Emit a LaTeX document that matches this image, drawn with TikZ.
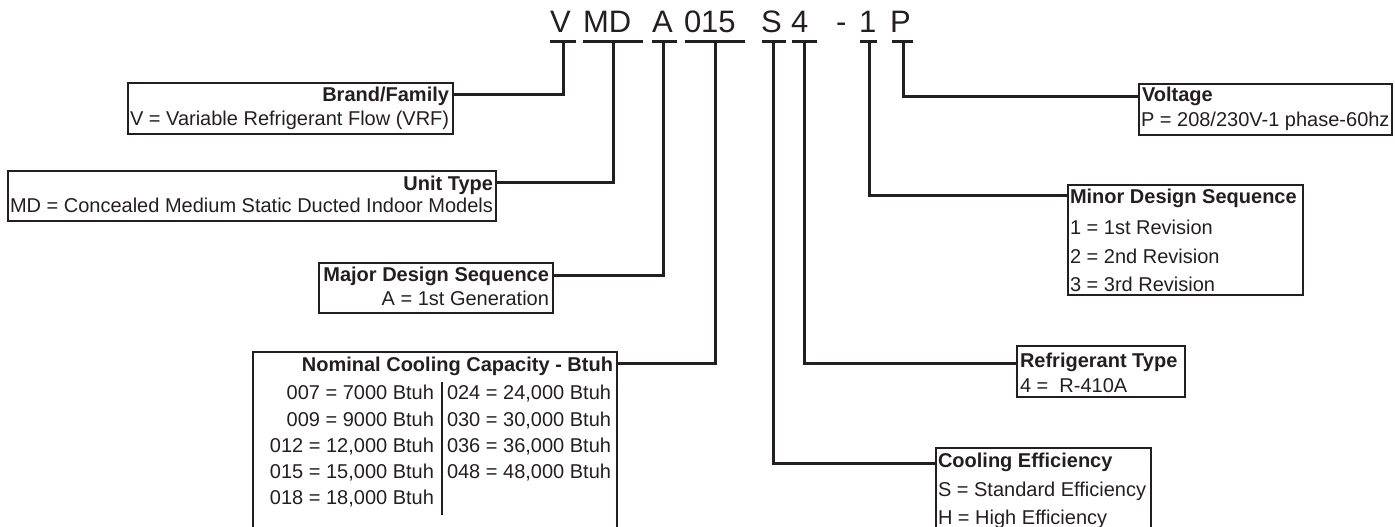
\documentclass[tikz,border=0pt]{standalone}
\usepackage{fontspec}
\setmainfont{Liberation Sans}
\definecolor{ink}{HTML}{231F20}
\begin{document}
\begin{tikzpicture}[x=1pt,y=-1pt,
  every node/.style={inner sep=0pt, outer sep=0pt, text=ink},
  codech/.style={anchor=base west, font=\fontsize{31}{36}\selectfont},
  ttl/.style={font=\fontsize{20}{24}\selectfont\bfseries},
  txt/.style={font=\fontsize{20}{24}\selectfont},
  box/.style={draw=ink, line width=1.3pt, rectangle, anchor=north west},
  conn/.style={draw=ink, line width=3pt},
  uline/.style={draw=ink, line width=3pt},
  divider/.style={draw=ink, line width=1.3pt},
]
\useasboundingbox (0,0) rectangle (1395,527);
\clip (0,0) rectangle (1395,527);

% ---- model code ----
\node[codech] (cV)   at (550,33) {V};
\node[codech] (cMD)  at (583,33) {MD};
\node[codech] (cA)   at (652,33) {A};
\node[codech] (c015) at (684,33) {015};
\node[codech] (cS)   at (761,33) {S};
\node[codech] (c4)   at (791,33) {4};
\node[codech] (cdash) at (836,33) {-};
\node[codech] (c1)   at (859,33) {1};
\node[codech] (cP)   at (890,33) {P};

\draw[uline] (550,42) -- (576,42);
\draw[uline] (583,42) -- (643,42);
\draw[uline] (652,42) -- (677,42);
\draw[uline] (685,42) -- (745,42);
\draw[uline] (762,42) -- (786,42);
\draw[uline] (792,42) -- (817,42);
\draw[uline] (860,42) -- (877,42);
\draw[uline] (892,42) -- (913,42);

\coordinate (tV)   at (563,42);
\coordinate (tMD)  at (613,42);
\coordinate (tA)   at (663,42);
\coordinate (t015) at (715,42);
\coordinate (tS)   at (773,42);
\coordinate (t4)   at (804,42);
\coordinate (t1)   at (869,42);
\coordinate (tP)   at (903,42);

% ---- boxes ----
\node[box, minimum width=325pt, minimum height=51pt] (brand) at (128,83) {};
\node[box, minimum width=488pt, minimum height=50pt] (unit) at (8,171) {};
\node[box, minimum width=234pt, minimum height=50pt] (major) at (319,263) {};
\node[box, minimum width=364pt, minimum height=200pt] (nominal) at (253,352) {};
\node[box, minimum width=253pt, minimum height=51pt] (volt) at (1139,84) {};
\node[box, minimum width=235pt, minimum height=110pt] (minor) at (1068,185) {};
\node[box, minimum width=168pt, minimum height=51pt] (refr) at (1017,346) {};
\node[box, minimum width=215pt, minimum height=110pt] (cool) at (936,448) {};

% ---- connector levels ----
\coordinate (yV)   at (0,94);
\coordinate (yMD)  at (0,182);
\coordinate (yA)   at (0,275);
\coordinate (y015) at (0,363);
\coordinate (yS)   at (0,463);
\coordinate (y4)   at (0,363);
\coordinate (y1)   at (0,195);
\coordinate (yP)   at (0,96);

\draw[conn] (tV)   |- (brand.east |- yV);
\draw[conn] (tMD)  |- (unit.east |- yMD);
\draw[conn] (tA)   |- (major.east |- yA);
\draw[conn] (t015) |- (nominal.east |- y015);
\draw[conn] (tS)   |- (cool.west |- yS);
\draw[conn] (t4)   |- (refr.west |- y4);
\draw[conn] (t1)   |- (minor.west |- y1);
\draw[conn] (tP)   |- (volt.west |- yP);

% ---- texts ----
\node[ttl, anchor=base east] (brandT) at (449,102) {Brand/Family};
\node[txt, anchor=base west] (brandL) at (130,125) {V = Variable Refrigerant Flow (VRF)};

\node[ttl, anchor=base east] (unitT) at (493,190) {Unit Type};
\node[txt, anchor=base west] (unitL) at (10,212) {MD = Concealed Medium Static Ducted Indoor Models};

\node[ttl, anchor=base east] (majorT) at (549,281) {Major Design Sequence};
\node[txt, anchor=base east] (majorL) at (549,305) {A = 1st Generation};

\node[ttl, anchor=base east] (nomT) at (613,371) {Nominal Cooling Capacity - Btuh};
\node[txt, anchor=base east] (n1) at (434,399) {007 = 7000 Btuh};
\node[txt, anchor=base east] (n2) at (434,426) {009 = 9000 Btuh};
\node[txt, anchor=base east] (n3) at (434,452) {012 = 12,000 Btuh};
\node[txt, anchor=base east] (n4) at (434,478) {015 = 15,000 Btuh};
\node[txt, anchor=base east] (n5) at (434,504) {018 = 18,000 Btuh};
\node[txt, anchor=base west] (n6) at (447,399) {024 = 24,000 Btuh};
\node[txt, anchor=base west] (n7) at (447,426) {030 = 30,000 Btuh};
\node[txt, anchor=base west] (n8) at (447,452) {036 = 36,000 Btuh};
\node[txt, anchor=base west] (n9) at (447,478) {048 = 48,000 Btuh};
\draw[divider] (442,382) -- (442,515);

\node[ttl, anchor=base west] (voltT) at (1142,101) {Voltage};
\node[txt, anchor=base west] (voltL) at (1141,126) {P = 208/230V-1 phase-60hz};

\node[ttl, anchor=base west] (minorT) at (1070,203) {Minor Design Sequence};
\node[txt, anchor=base west] (m1) at (1070,234) {1 = 1st Revision};
\node[txt, anchor=base west] (m2) at (1070,263) {2 = 2nd Revision};
\node[txt, anchor=base west] (m3) at (1070,291) {3 = 3rd Revision};

\node[ttl, anchor=base west] (refrT) at (1020,367) {Refrigerant Type};
\node[txt, anchor=base west] (refrL) at (1020,392) {4 =\ \ R-410A};

\node[ttl, anchor=base west] (coolT) at (938,467) {Cooling Efficiency};
\node[txt, anchor=base west] (coolS) at (938,496) {S = Standard Efficiency};
\node[txt, anchor=base west] (coolH) at (938,524) {H = High Efficiency};
\end{tikzpicture}
\end{document}
